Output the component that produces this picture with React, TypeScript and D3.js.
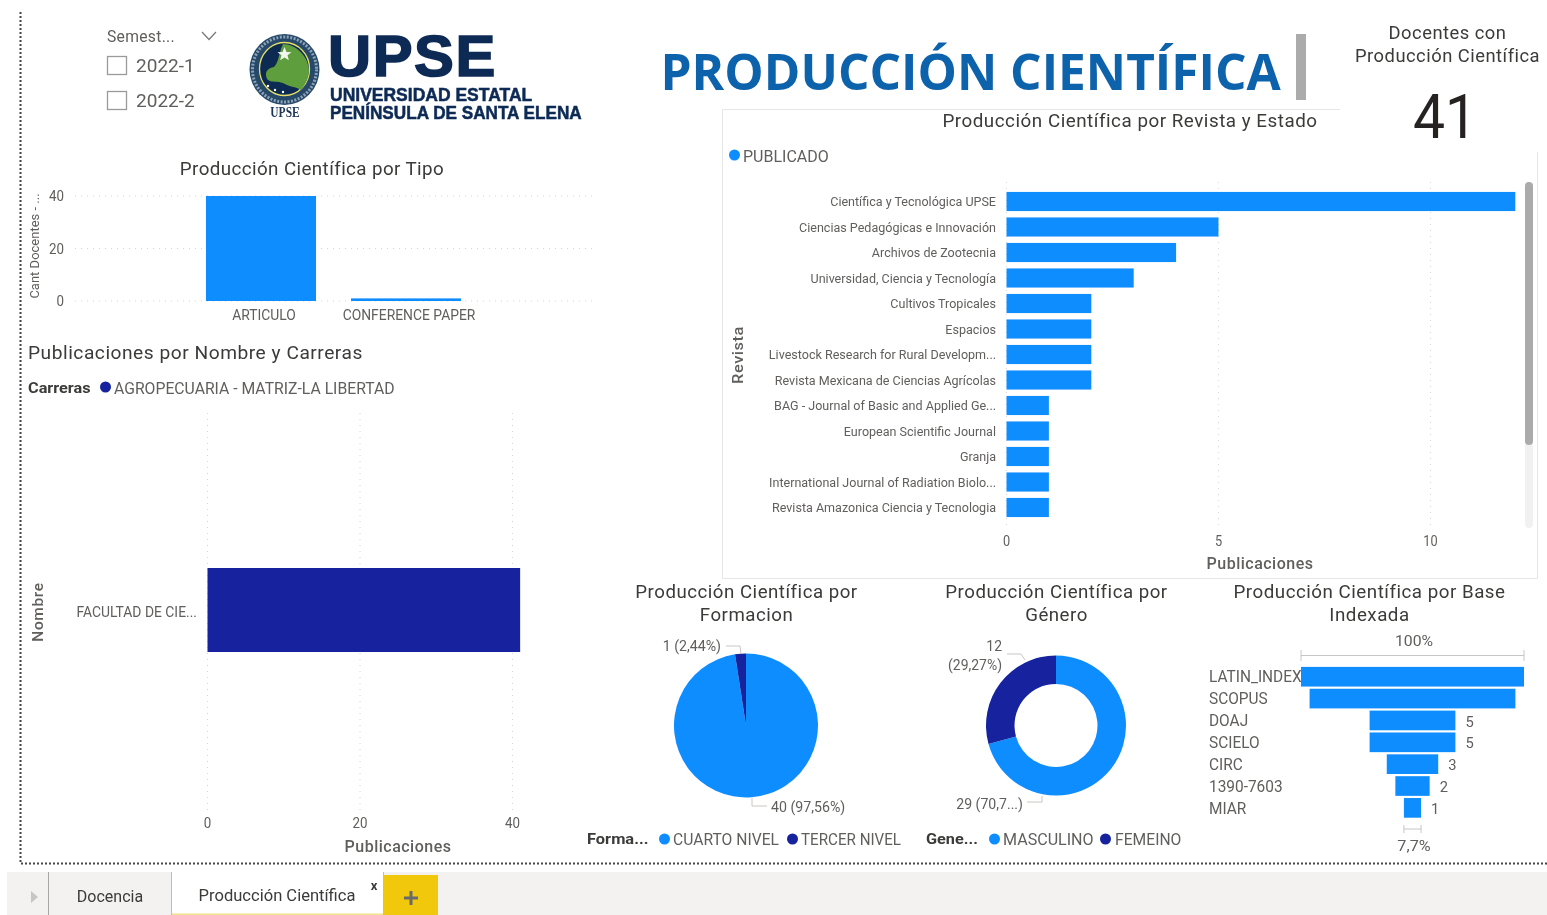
import React from "react";
import * as d3 from "d3";

const semesters = ["2022-1", "2022-2"];
const tipoCats = ["ARTICULO", "CONFERENCE PAPER"];
const tipoVals = [40, 1];
const tipoTicks = [0, 20, 40];
const nombreCats = ["FACULTAD DE CIE..."];
const nombreVals = [41];
const nombreTicks = [0, 20, 40];
const revistaCats = [
  "Científica y Tecnológica UPSE",
  "Ciencias Pedagógicas e Innovación",
  "Archivos de Zootecnia",
  "Universidad, Ciencia y Tecnología",
  "Cultivos Tropicales",
  "Espacios",
  "Livestock Research for Rural Developm...",
  "Revista Mexicana de Ciencias Agrícolas",
  "BAG - Journal of Basic and Applied Ge...",
  "European Scientific Journal",
  "Granja",
  "International Journal of Radiation Biolo...",
  "Revista Amazonica Ciencia y Tecnologia",
];
const revistaVals = [12, 5, 4, 3, 2, 2, 2, 2, 1, 1, 1, 1, 1];
const revistaTicks = [0, 5, 10];
const formacionCats = ["CUARTO NIVEL", "TERCER NIVEL"];
const formacionVals = [40, 1];
const generoCats = ["MASCULINO", "FEMEINO"];
const generoVals = [29, 12];
const baseCats = ["LATIN_INDEX", "SCOPUS", "DOAJ", "SCIELO", "CIRC", "1390-7603", "MIAR"];
const baseVals = [13, 12, 5, 5, 3, 2, 1];

const BLUE = "#118DFF";
const NAVY = "#12239E";
const GREY = "#605E5C";
const DARK = "#3B3A39";
const FONT = "Roboto, sans-serif";

type TP = {
  x: number; y: number; s?: number; k?: number; a?: "start" | "middle" | "end";
  c?: string; w?: number; f?: string; r?: number; ls?: number; sw?: number; children: React.ReactNode;
};
function T({ x, y, s = 15, k = 1, a = "start", c = GREY, w = 400, f = FONT, r = 0, ls = 0, sw = 0, children }: TP) {
  return (
    <text
      transform={`translate(${x},${y}) rotate(${r}) scale(${k},1)`}
      textAnchor={a} fontSize={s} fill={c} fontWeight={w} fontFamily={f} letterSpacing={ls}
      stroke={sw ? c : "none"} strokeWidth={sw}
      dominantBaseline="central"
    >
      {children}
    </text>
  );
}

const Dot = ({ x, y, c }: { x: number; y: number; c: string }) => <circle cx={x} cy={y} r={5.5} fill={c} />;

function Logo() {
  return (
    <g>
      <ellipse cx={284.5} cy={69.5} rx={35} ry={35.5} fill="#26496b" />
      <ellipse cx={284.5} cy={69.5} rx={32} ry={32.5} fill="none" stroke="#8ea2b5" strokeWidth={3} strokeDasharray="2 1.5" />
      <ellipse cx={284.5} cy={69} rx={25} ry={26.5} fill="#0d2a52" stroke="#e5df6a" strokeWidth={1.3} />
      <path d="M267 79 C264 72 268 68 274 67 C279 62 279 52 283 44 C295 44 308 55 309 70 C309 78 305 85 301 90 C297 87 290 87 285 84 C278 80 272 84 267 79 Z" fill="#5f9e3c" />
      <path d="M284.5 47 l2 5 5 .3 -4 3 1.4 5 -4.4 -2.8 -4.4 2.8 1.4 -5 -4 -3 5 -.3 z" fill="#f3f6ee" />
      <circle cx={268} cy={86} r={1.2} fill="#fff" /><circle cx={275} cy={90} r={1.2} fill="#fff" /><circle cx={283} cy={92} r={1.2} fill="#fff" />
      <T x={285} y={113} s={14} k={0.82} a="middle" c="#1d3557" w={700} f="'Liberation Serif', serif">UPSE</T>
      <T x={328} y={56} s={58} k={1.03} c="#0b2a55" w={700} f="'Liberation Sans', sans-serif" ls={1.5} sw={1.6}>UPSE</T>
      <T x={330} y={95} s={17.5} k={1.0} c="#0b2a55" w={700} f="'Liberation Sans', sans-serif" sw={0.5}>UNIVERSIDAD ESTATAL</T>
      <T x={330} y={113} s={17.5} k={0.98} c="#0b2a55" w={700} f="'Liberation Sans', sans-serif" sw={0.5}>PENÍNSULA DE SANTA ELENA</T>
    </g>
  );
}

function Tipo() {
  const x = d3.scaleBand<string>().domain(tipoCats).range([188.5, 478.5]).paddingInner(35 / 145).paddingOuter(17.5 / 145);
  const y = d3.scaleLinear().domain([0, 40]).range([301, 196]);
  return (
    <g>
      <T x={312} y={169} s={18.5} a="middle" k={1.015} c={DARK} ls={0.4}>Producción Científica por Tipo</T>
      <T x={34} y={246} s={13} k={1.0} a="middle" r={-90}>Cant Docentes - ...</T>
      {tipoTicks.map((t) => (
        <g key={t}>
          <line x1={75} x2={595} y1={y(t)} y2={y(t)} stroke="#d4d4d4" strokeDasharray="1 5" />
          <T x={64} y={y(t)} s={14.5} a="end" k={0.92}>{t}</T>
        </g>
      ))}
      {tipoCats.map((c, i) => (
        <g key={c}>
          <rect x={x(c)} width={x.bandwidth()} y={y(tipoVals[i])} height={y(0) - y(tipoVals[i])} fill={BLUE} />
          <T x={x(c)! + x.bandwidth() / 2 + 3} y={315} s={15} k={0.925} a="middle">{c}</T>
        </g>
      ))}
    </g>
  );
}

function Nombre() {
  const x = d3.scaleLinear().domain([0, 40]).range([207.5, 512.5]);
  const y = d3.scaleBand<string>().domain(nombreCats).range([568, 652]);
  return (
    <g>
      <T x={28} y={353} s={18.5} k={1.037} c={DARK} ls={0.5}>Publicaciones por Nombre y Carreras</T>
      <T x={28} y={388} s={15.5} k={1.05} c={DARK} w={700}>Carreras</T>
      <Dot x={105.5} y={387} c={NAVY} />
      <T x={114} y={388} s={16.5} k={0.955}>AGROPECUARIA - MATRIZ-LA LIBERTAD</T>
      {nombreTicks.map((t) => (
        <g key={t}>
          <line x1={x(t)} x2={x(t)} y1={413} y2={810} stroke="#d4d4d4" strokeDasharray="1 5" />
          <T x={x(t)} y={823} s={14.5} a="middle" k={0.92}>{t}</T>
        </g>
      ))}
      {nombreCats.map((c, i) => (
        <g key={c}>
          <rect x={x(0)} y={y(c)} width={x(nombreVals[i]) - x(0)} height={y.bandwidth()} fill={NAVY} />
          <T x={197} y={y(c)! + y.bandwidth() / 2 + 2} s={14.5} k={0.957} a="end">{c}</T>
        </g>
      ))}
      <T x={38} y={612} s={15.5} a="middle" r={-90} ls={0.6} c={GREY} w={500}>Nombre</T>
      <T x={398} y={846} s={16} a="middle" ls={0.5} c={GREY} w={500}>Publicaciones</T>
    </g>
  );
}

function Revista() {
  const x = d3.scaleLinear().domain([0, 10]).range([1006.5, 1430.5]);
  const y = d3.scaleBand<string>().domain(revistaCats).range([188.75, 520.25]).paddingInner(0.25).paddingOuter(0.125);
  return (
    <g>
      <path d="M1340 109.5 H722.5 V578.5 H1537.5 V152" fill="none" stroke="#e6e6e6" />
      <T x={1130} y={121} s={18.5} k={1.018} a="middle" c={DARK} ls={0.5}>Producción Científica por Revista y Estado</T>
      <Dot x={734.5} y={155} c={BLUE} />
      <T x={743} y={156} s={16.5} k={0.97}>PUBLICADO</T>
      {revistaTicks.map((t) => (
        <g key={t}>
          <line x1={x(t)} x2={x(t)} y1={182} y2={530} stroke="#d8d8d8" strokeDasharray="1 5" />
          <T x={x(t)} y={541} s={14.5} a="middle" k={0.88}>{t}</T>
        </g>
      ))}
      {revistaCats.map((c, i) => (
        <g key={c}>
          <rect x={x(0)} y={y(c)} width={x(revistaVals[i]) - x(0)} height={y.bandwidth()} fill={BLUE} />
          <T x={996} y={y(c)! + y.bandwidth() / 2} s={13.5} k={0.93} a="end">{c}</T>
        </g>
      ))}
      <rect x={1525} y={182} width={8} height={346} rx={4} fill="#f1f1f1" />
      <rect x={1525} y={182} width={8} height={263} rx={4} fill="#ababab" />
      <T x={738} y={355} s={15.5} k={1.06} a="middle" r={-90} ls={0.5} w={500}>Revista</T>
      <T x={1260} y={563} s={16} a="middle" ls={0.5} w={500}>Publicaciones</T>
    </g>
  );
}

function PieChart({ cx, cy, r, inner, vals }: { cx: number; cy: number; r: number; inner: number; vals: number[] }) {
  const arcs = d3.pie<number>().sort(null)(vals);
  const arc = d3.arc<d3.PieArcDatum<number>>().innerRadius(inner).outerRadius(r);
  const colors = [BLUE, NAVY];
  return (
    <g transform={`translate(${cx},${cy})`}>
      {arcs.map((a, i) => <path key={i} d={arc(a) ?? ""} fill={colors[i]} />)}
    </g>
  );
}

function Pies() {
  const lead = "#c8c6c4";
  return (
    <g>
      <T x={746.5} y={592} s={18.5} k={1.01} a="middle" c={DARK} ls={0.5}>Producción Científica por</T>
      <T x={746.5} y={615} s={18.5} k={1.01} a="middle" c={DARK} ls={0.5}>Formacion</T>
      <PieChart cx={746} cy={725.5} r={72} inner={0} vals={formacionVals} />
      <path d="M726 646 H740 L741 654" fill="none" stroke={lead} />
      <path d="M752 798 V806 H767" fill="none" stroke={lead} />
      <T x={721} y={646} s={15} k={0.945} a="end">1 (2,44%)</T>
      <T x={771} y={807} s={15} k={0.945}>40 (97,56%)</T>
      <T x={587} y={839} s={15.5} k={1.06} c={DARK} w={700}>Forma...</T>
      <Dot x={664.5} y={839} c={BLUE} />
      <T x={673} y={839} s={16.5} k={0.95}>{formacionCats[0]}</T>
      <Dot x={792.5} y={839} c={NAVY} />
      <T x={801} y={839} s={16.5} k={0.92}>{formacionCats[1]}</T>

      <T x={1056.5} y={592} s={18.5} k={1.01} a="middle" c={DARK} ls={0.5}>Producción Científica por</T>
      <T x={1056.5} y={615} s={18.5} k={1.01} a="middle" c={DARK} ls={0.5}>Género</T>
      <PieChart cx={1056} cy={725.5} r={70} inner={41.5} vals={generoVals} />
      <path d="M1007 654 H1021 L1025 660" fill="none" stroke={lead} />
      <path d="M1027 802 H1042 V796" fill="none" stroke={lead} />
      <T x={1002} y={646} s={15} k={0.93} a="end">12</T>
      <T x={1002} y={665} s={15} k={0.93} a="end">(29,27%)</T>
      <T x={1023} y={804} s={15} k={0.94} a="end">29 (70,7...)</T>
      <T x={926} y={839} s={15.5} k={1.05} c={DARK} w={700}>Gene...</T>
      <Dot x={994.5} y={839} c={BLUE} />
      <T x={1003} y={839} s={16.5} k={0.975}>{generoCats[0]}</T>
      <Dot x={1105.5} y={839} c={NAVY} />
      <T x={1115} y={839} s={16.5} k={0.95}>{generoCats[1]}</T>
    </g>
  );
}

function Funnel() {
  const w = d3.scaleLinear().domain([0, 13]).range([0, 223]);
  const y = d3.scaleBand<string>().domain(baseCats).range([665.8, 818.8]).paddingInner(0.1).paddingOuter(0.05);
  const cx = 1412.5;
  const br = "#c8c6c4";
  return (
    <g>
      <T x={1369.5} y={592} s={18.5} k={1.013} a="middle" c={DARK} ls={0.5}>Producción Científica por Base</T>
      <T x={1369.5} y={615} s={18.5} k={1.013} a="middle" c={DARK} ls={0.5}>Indexada</T>
      <T x={1414} y={641} s={15} k={1.05} a="middle">100%</T>
      <path d={`M${cx - w(13) / 2} 650 V661 M${cx - w(13) / 2} 655.5 H${cx + w(13) / 2} M${cx + w(13) / 2} 650 V661`} fill="none" stroke={br} />
      {baseCats.map((c, i) => {
        const cy = y(c)! + y.bandwidth() / 2;
        return (
          <g key={c}>
            <T x={1209} y={cy} s={16.5} k={0.935}>{c}</T>
            <rect x={cx - w(baseVals[i]) / 2} y={y(c)} width={w(baseVals[i])} height={y.bandwidth()} fill={BLUE} />
            {i > 1 && <T x={cx + w(baseVals[i]) / 2 + 10} y={cy + 1} s={15.5} k={0.95}>{baseVals[i]}</T>}
          </g>
        );
      })}
      <path d={`M${cx - w(1) / 2} 825 V833 M${cx - w(1) / 2} 829 H${cx + w(1) / 2} M${cx + w(1) / 2} 825 V833`} fill="none" stroke={br} />
      <T x={1414} y={846} s={15} k={1.08} a="middle">7,7%</T>
    </g>
  );
}

function Tabs() {
  return (
    <g>
      <rect x={7} y={872} width={1540} height={43} fill="#F3F2F1" />
      <path d="M31 891 l7 6 -7 6 z" fill="#c8c6c4" />
      <line x1={48.5} x2={48.5} y1={872} y2={915} stroke="#a6a6a6" />
      <T x={110} y={896} s={16} k={1.0} a="middle" c={DARK}>Docencia</T>
      <rect x={172} y={872} width={211} height={43} fill="#fff" />
      <rect x={172} y={913.5} width={211} height={1.5} fill="#F2E08A" />
      <line x1={171.5} x2={171.5} y1={872} y2={915} stroke="#bdbdbd" />
      <line x1={383.5} x2={383.5} y1={872} y2={915} stroke="#bdbdbd" />
      <T x={277} y={896} s={16} k={1.035} a="middle" c={DARK}>Producción Científica</T>
      <T x={374} y={885} s={13} a="middle" c={DARK} w={700}>x</T>
      <rect x={384} y={875} width={54} height={40} fill="#F2C811" />
      <path d="M404 896.5 H418 V899.5 H404 Z M409.5 891 H412.5 V905 H409.5 Z" fill="#6b6b6b" />
    </g>
  );
}

export default function App() {
  return (
    <svg width={1547} height={915} style={{ position: "absolute", left: 0, top: 0, background: "#fff" }}>
      <defs>
        <filter id="soft" x="0" y="0" width="100%" height="100%"><feGaussianBlur stdDeviation="0.3" /></filter>
      </defs>
      <g filter="url(#soft)">
        <path d="M20.5 12 V863.5 H1547" fill="none" stroke="#444" strokeWidth={2} strokeDasharray="2 2" />
        <T x={107} y={36} s={16} k={0.98} ls={0.3}>Semest...</T>
        <path d="M202 32 L209 39.5 L216 32" fill="none" stroke="#777" strokeWidth={1.2} />
        {semesters.map((s, i) => (
          <g key={s}>
            <rect x={107.5} y={56.5 + i * 35} width={19} height={18} fill="#fff" stroke="#9a9a9a" strokeWidth={1.3} />
            <T x={136} y={66.5 + i * 34.5} s={18.5} k={1.03}>{s}</T>
          </g>
        ))}
        <Logo />
        <T x={660.5} y={70} s={51} k={0.972} c="#0F62AC" w={700} f="'Open Sans', sans-serif">PRODUCCIÓN CIENTÍFICA</T>
        <rect x={1296} y={34} width={10} height={66} fill="#ababab" />
        <T x={1447.5} y={32} s={18.5} k={0.993} a="middle" c={DARK} ls={0.5}>Docentes con</T>
        <T x={1447.5} y={55} s={18.5} k={0.993} a="middle" c={DARK} ls={0.5}>Producción Científica</T>
        <T x={1445} y={117} s={62} k={0.92} a="middle" c="#252423" w={400}>41</T>
        <Tipo />
        <Nombre />
        <Revista />
        <Pies />
        <Funnel />
        <Tabs />
      </g>
    </svg>
  );
}
